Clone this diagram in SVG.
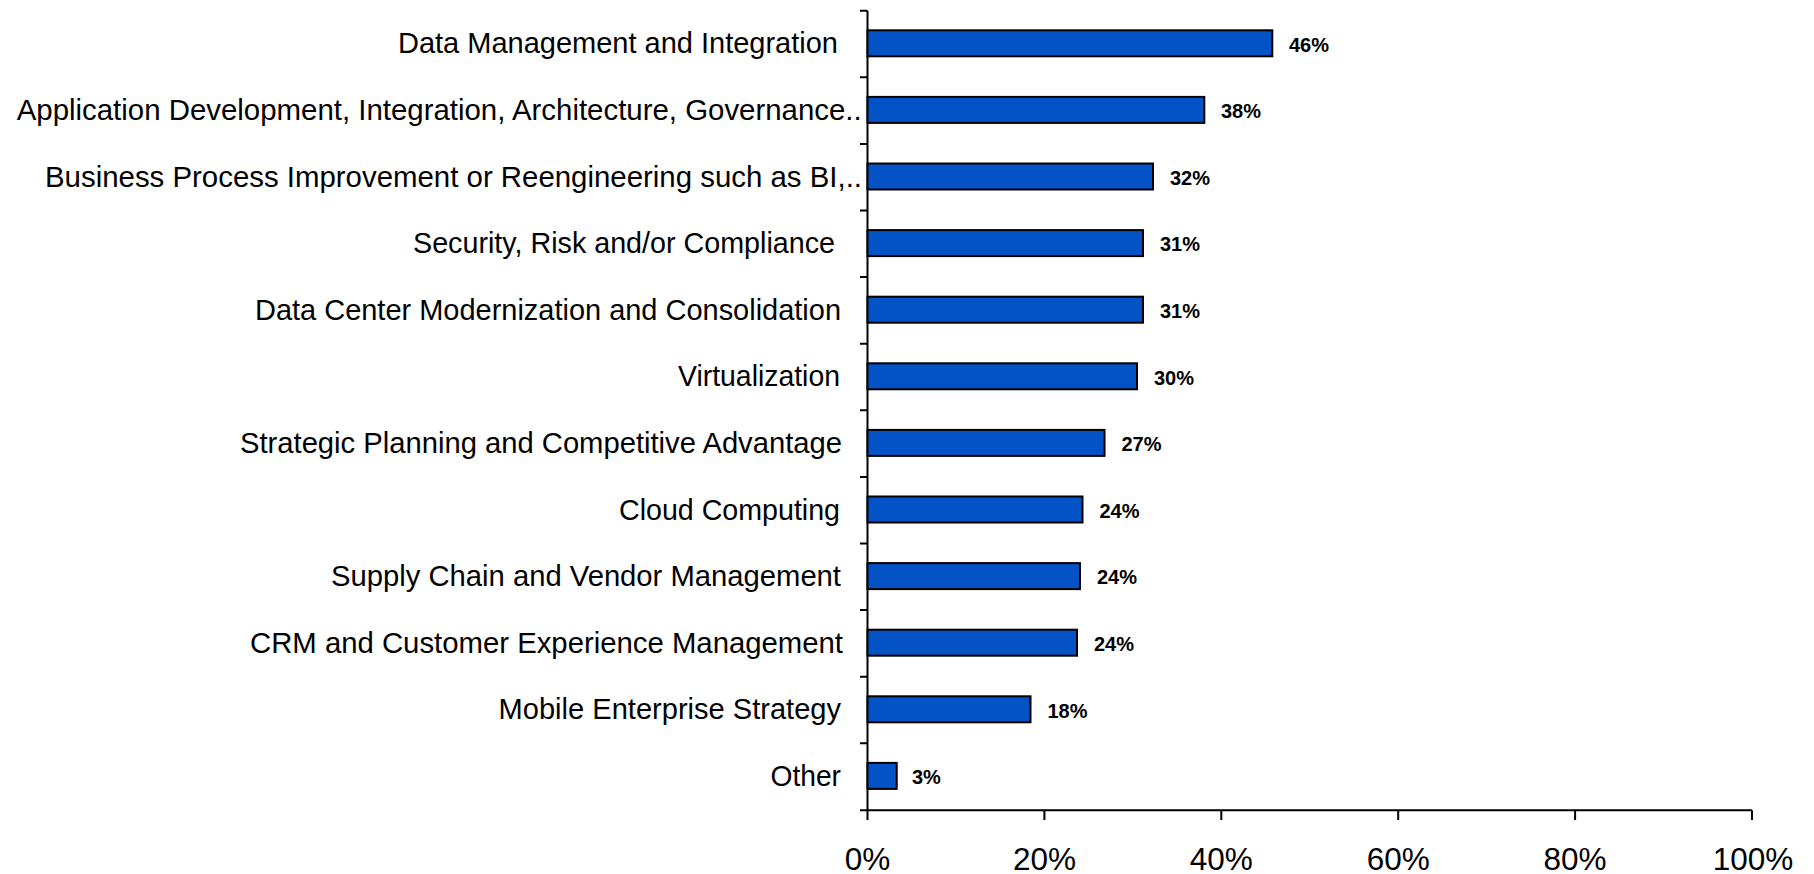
<svg xmlns="http://www.w3.org/2000/svg" width="1814" height="874" viewBox="0 0 1814 874">
<style>
.lbl{font-family:"Liberation Sans",Arial,sans-serif;font-size:29px;fill:#000}
.val{font-family:"Liberation Sans",Arial,sans-serif;font-size:20px;font-weight:bold;fill:#000}
.tick{font-family:"Liberation Sans",Arial,sans-serif;font-size:31.5px;fill:#000;text-anchor:middle}
.bar{fill:#0353C6;stroke:#000;stroke-width:2}
.ax{stroke:#000;stroke-width:2;fill:none}
</style>
<rect width="1814" height="874" fill="#fff"/>
<g id="axes">
<path class="ax" d="M867.5 10.7V810.3H1752"/>
<path class="ax" d="M860 10.7H867.5M860 77.3H867.5M860 143.9H867.5M860 210.5H867.5M860 277.1H867.5M860 343.7H867.5M860 410.3H867.5M860 476.9H867.5M860 543.5H867.5M860 610.1H867.5M860 676.7H867.5M860 743.3H867.5M860 810.3H867.5"/>
<path class="ax" d="M867.5 810.3V820M1044.4 810.3V820M1221.3 810.3V820M1398.2 810.3V820M1575.1 810.3V820M1752 810.3V820"/>
<text class="tick" x="867.5" y="870">0%</text>
<text class="tick" x="1044.4" y="870">20%</text>
<text class="tick" x="1221.3" y="870">40%</text>
<text class="tick" x="1398.2" y="870">60%</text>
<text class="tick" x="1575.1" y="870">80%</text>
<text class="tick" x="1753" y="870">100%</text>
</g>
<g id="bar0"><rect class="bar" x="867.5" y="30.3" width="404.8" height="26"/><text class="lbl" x="398" y="53.3" textLength="440" lengthAdjust="spacingAndGlyphs">Data Management and Integration</text><text class="val" x="1289" y="51.5">46%</text></g>
<g id="bar1"><rect class="bar" x="867.5" y="96.9" width="336.8" height="26"/><text class="lbl" x="16.7" y="119.9" textLength="845" lengthAdjust="spacingAndGlyphs">Application Development, Integration,  Architecture, Governance..</text><text class="val" x="1221" y="118.1">38%</text></g>
<g id="bar2"><rect class="bar" x="867.5" y="163.5" width="285.5" height="26"/><text class="lbl" x="45" y="186.5" textLength="817" lengthAdjust="spacingAndGlyphs">Business Process Improvement or Reengineering  such as BI,..</text><text class="val" x="1170" y="184.7">32%</text></g>
<g id="bar3"><rect class="bar" x="867.5" y="230.1" width="275.5" height="26"/><text class="lbl" x="413" y="253.1" textLength="422" lengthAdjust="spacingAndGlyphs">Security, Risk and/or Compliance</text><text class="val" x="1160" y="251.3">31%</text></g>
<g id="bar4"><rect class="bar" x="867.5" y="296.7" width="275.5" height="26"/><text class="lbl" x="255" y="319.7" textLength="586" lengthAdjust="spacingAndGlyphs">Data Center Modernization and Consolidation</text><text class="val" x="1160" y="317.9">31%</text></g>
<g id="bar5"><rect class="bar" x="867.5" y="363.3" width="269.5" height="26"/><text class="lbl" x="678" y="386.3" textLength="162" lengthAdjust="spacingAndGlyphs">Virtualization</text><text class="val" x="1154" y="384.5">30%</text></g>
<g id="bar6"><rect class="bar" x="867.5" y="429.9" width="237" height="26"/><text class="lbl" x="240" y="452.9" textLength="602" lengthAdjust="spacingAndGlyphs">Strategic Planning and Competitive Advantage</text><text class="val" x="1121.5" y="451.1">27%</text></g>
<g id="bar7"><rect class="bar" x="867.5" y="496.5" width="215" height="26"/><text class="lbl" x="619" y="519.5" textLength="221" lengthAdjust="spacingAndGlyphs">Cloud Computing</text><text class="val" x="1099.5" y="517.7">24%</text></g>
<g id="bar8"><rect class="bar" x="867.5" y="563.1" width="212.5" height="26"/><text class="lbl" x="331" y="586.1" textLength="510" lengthAdjust="spacingAndGlyphs">Supply Chain and Vendor Management</text><text class="val" x="1097" y="584.3">24%</text></g>
<g id="bar9"><rect class="bar" x="867.5" y="629.7" width="209.5" height="26"/><text class="lbl" x="250" y="652.7" textLength="593" lengthAdjust="spacingAndGlyphs">CRM and Customer Experience Management</text><text class="val" x="1094" y="650.9">24%</text></g>
<g id="bar10"><rect class="bar" x="867.5" y="696.3" width="163" height="26"/><text class="lbl" x="498.6" y="719.3" textLength="342.4" lengthAdjust="spacingAndGlyphs">Mobile Enterprise Strategy</text><text class="val" x="1047.5" y="717.5">18%</text></g>
<g id="bar11"><rect class="bar" x="867.5" y="762.9" width="29.2" height="26"/><text class="lbl" x="770.5" y="785.9" textLength="70.5" lengthAdjust="spacingAndGlyphs">Other</text><text class="val" x="912" y="784.1">3%</text></g>
</svg>
